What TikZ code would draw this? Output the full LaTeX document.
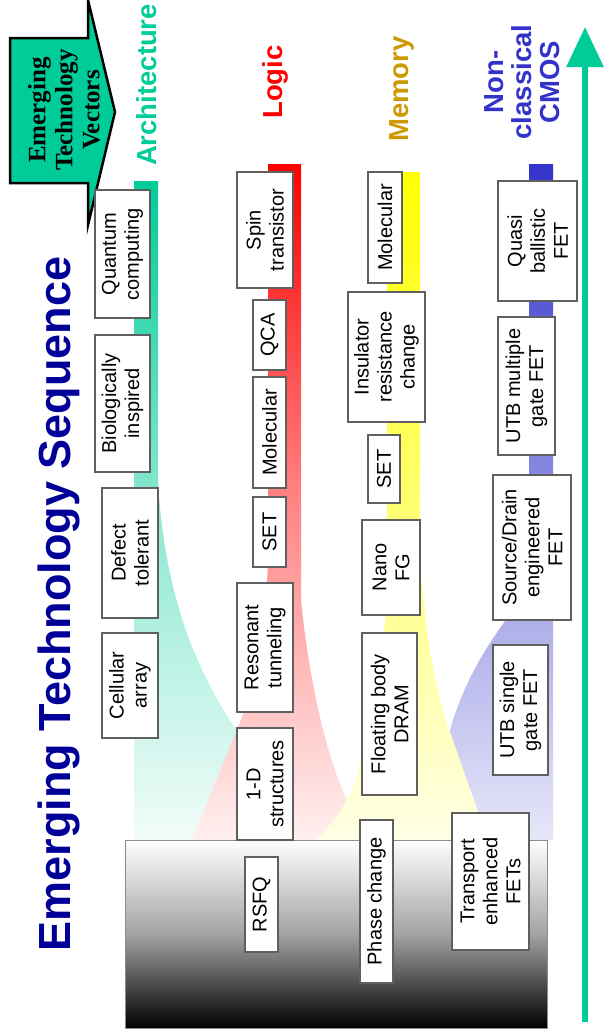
\documentclass[tikz,border=0pt]{standalone}
\usepackage{fontspec}
\setmainfont{Liberation Sans}
\newfontfamily\vecfont{Liberation Serif}
\usetikzlibrary{arrows.meta}

\definecolor{archgreen}{RGB}{0,204,153}
\definecolor{logicred}{RGB}{255,0,0}
\definecolor{memgold}{RGB}{204,153,0}
\definecolor{cmosblue}{RGB}{51,51,204}
\definecolor{titlenavy}{RGB}{0,0,153}
\definecolor{boxedge}{RGB}{95,95,95}

\begin{document}
\begin{tikzpicture}[x=1pt,y=-1pt,
  techbox/.style={draw=boxedge, fill=white, line width=1.3pt, rotate=90,
    align=center, inner sep=0pt, font=\fontsize{20}{23}\selectfont},
  wh/.style 2 args={minimum height=#1, minimum width=#2},
  vectorlabel/.style={rotate=90, align=center,
    font=\fontsize{27.5}{28}\selectfont\bfseries},
  trendarrow/.style={draw=archgreen, line width=6pt,
    -{Triangle[width=36pt,length=40pt]}},
]
\useasboundingbox (0,0) rectangle (603,1036);

% --- technology vectors: stripes widening into fans ---
\shade[top color=archgreen, bottom color=archgreen!5, middle color=archgreen!45]
  (134,181) -- (158,181) -- (158,480)
  .. controls (163,580) and (190,665) .. (240,735)
  -- (262,840) -- (134,840) -- cycle;

\shade[top color=cmosblue, bottom color=cmosblue!12, middle color=cmosblue!55]
  (529,164) -- (553,164) -- (553,840) -- (420,840) -- (450,730)
  .. controls (470,660) and (510,615) .. (529,590) -- cycle;

\shade[top color=logicred, bottom color=logicred!6, middle color=logicred!48]
  (268,164) -- (301,164) -- (301,600)
  .. controls (310,690) and (330,770) .. (350,805)
  -- (372,840) -- (192,840) -- (240,722)
  .. controls (258,680) and (266,620) .. (268,560) -- cycle;

\shade[top color=yellow, bottom color=yellow!10, middle color=yellow!55]
  (387,172) -- (420,172) -- (420,560)
  .. controls (425,640) and (438,700) .. (450,732)
  -- (488,840) -- (316,840)
  .. controls (350,805) and (360,780) .. (362,740)
  .. controls (366,690) and (385,650) .. (387,600) -- cycle;

% --- present-day base: white to black ---
\shade[top color=white, bottom color=black, middle color=black!36]
  (125,840) rectangle (547,1028);
\draw[black!45, line width=0.8pt] (125,840) rectangle (547,1028);

% --- block arrow with the vectors caption ---
\filldraw[fill=archgreen, draw=black, line width=2.5pt, line join=miter]
  (10,38) -- (88,38) -- (88,0) -- (115,112) -- (88,225) -- (88,183)
  -- (10,183) -- cycle;
\node[rotate=90, align=center,
  font=\vecfont\fontsize{25}{27}\selectfont\bfseries] (vectors)
  at (64,110) {Emerging\\Technology\\Vectors};

% --- title ---
\node[rotate=90, text=titlenavy, font=\fontsize{45}{50}\selectfont\bfseries]
  (title) at (58.5,604) {Emerging Technology Sequence};

% --- vector headings ---
\node[vectorlabel, text=archgreen] (archlabel) at (147,85) {Architecture};
\node[vectorlabel, text=logicred] (logiclabel) at (275,82) {Logic};
\node[vectorlabel, text=memgold] (memlabel) at (402,89) {Memory};
\node[vectorlabel, text=cmosblue] (cmoslabel) at (522,82) {Non-\\classical\\CMOS};

% --- architecture ---
\node[techbox, wh={55pt}{128pt}] (quantum) at (122.5,254) {Quantum\\computing};
\node[techbox, wh={55pt}{137pt}] (bio) at (122.5,403.5) {Biologically\\inspired};
\node[techbox, wh={56pt}{130pt}] (defect) at (130,553) {Defect\\tolerant};
\node[techbox, wh={56pt}{105pt}] (cellular) at (130,685.5) {Cellular\\array};

% --- logic ---
\node[techbox, wh={56pt}{116pt}] (spin) at (265,230) {Spin\\transistor};
\node[techbox, wh={33pt}{70pt}] (qca) at (269.5,335) {QCA};
\node[techbox, wh={33pt}{111pt}] (mollogic) at (269.5,432.5) {Molecular};
\node[techbox, wh={33pt}{70pt}] (setlogic) at (269.5,532) {SET};
\node[techbox, wh={56pt}{129pt}] (resonant) at (265,647.5) {Resonant\\tunneling};
\node[techbox, wh={56pt}{112pt}] (oned) at (265,784) {1-D\\structures};
\node[techbox, wh={33pt}{95pt}] (rsfq) at (261.5,904.5) {RSFQ};

% --- memory ---
\node[techbox, wh={34pt}{111pt}] (molmem) at (385,227.5) {Molecular};
\node[techbox, wh={77pt}{130pt}] (insulator) at (386.5,357) {Insulator\\resistance\\change};
\node[techbox, wh={32pt}{68pt}] (setmem) at (384,469) {SET};
\node[techbox, wh={58pt}{95pt}] (nanofg) at (391,567.5) {Nano\\FG};
\node[techbox, wh={55pt}{162pt}] (floating) at (389.5,714) {Floating body\\DRAM};
\node[techbox, wh={33pt}{163pt}] (phase) at (376.5,901.5) {Phase change};

% --- non-classical CMOS ---
\node[techbox, wh={79pt}{120pt}] (quasi) at (537.5,241) {Quasi\\ballistic\\FET};
\node[techbox, wh={57pt}{138pt}] (utbmulti) at (526.5,386) {UTB multiple\\gate FET};
\node[techbox, wh={78pt}{145pt}] (sourcedrain) at (532,547.5) {Source/Drain\\engineered\\FET};
\node[techbox, wh={55pt}{130pt}] (utbsingle) at (520.5,710) {UTB single\\gate FET};
\node[techbox, wh={77pt}{137pt}] (transport) at (490.5,881.5) {Transport\\enhanced\\FETs};

% --- time axis ---
\coordinate (axisfoot) at (585,1022);
\coordinate (axistip) at (585,27);
\draw[trendarrow] (axisfoot) -- (axistip);
\end{tikzpicture}
\end{document}
